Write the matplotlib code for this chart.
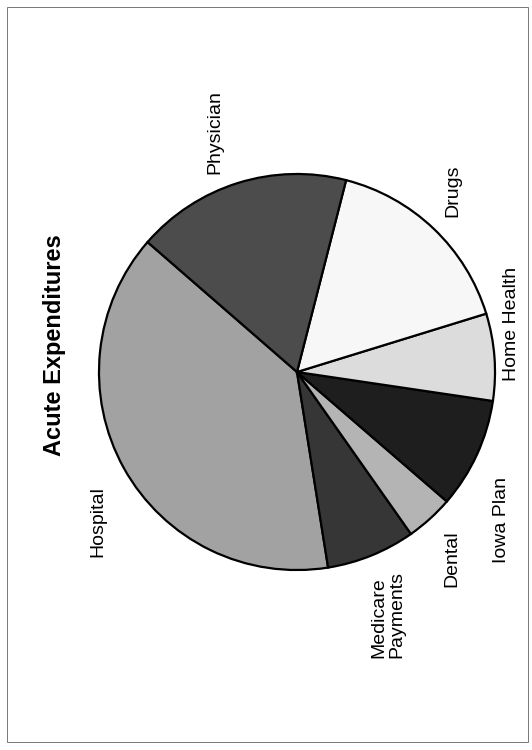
import matplotlib
matplotlib.use('Agg')
import matplotlib.pyplot as plt
from matplotlib.patches import Rectangle

# slice shares (percent), in counter-clockwise order starting from Hospital
categories = ['Hospital', 'Medicare\nPayments', 'Dental', 'Iowa Plan',
              'Home Health', 'Drugs', 'Physician']
shares = [38.9, 7.25, 3.9, 9.0, 7.1, 16.25, 17.6]
title = 'Acute Expenditures'

colors = ['#a2a2a2', '#363636', '#b4b4b4', '#1e1e1e',
          '#dcdcdc', '#f7f7f7', '#4c4c4c']

# label centres in pixels (x, y from top), text is rotated 90 degrees
label_pos = {
    'Hospital': (98, 522),
    'Medicare\nPayments': (388, 615),
    'Dental': (452, 559),
    'Iowa Plan': (501, 520),
    'Home Health': (512, 324),
    'Drugs': (453, 191),
    'Physician': (215, 132),
}

W, H = 532, 750
plt.rcParams['font.family'] = ['Liberation Sans', 'DejaVu Sans']
fig = plt.figure(figsize=(W / 100, H / 100), dpi=100)

# pie centre at (297, 372) px, radius 200 px
cx, cy, r = 297, 372, 200
ax = fig.add_axes([(cx - r) / W, (H - cy - r) / H, 2 * r / W, 2 * r / H])
wedges, _ = ax.pie(shares, colors=colors, startangle=139, counterclock=True,
                   wedgeprops=dict(edgecolor='black', linewidth=1.6))
ax.set_xlim(-1.01, 1.01)
ax.set_ylim(-1.01, 1.01)
ax.set_aspect('equal')
ax.axis('off')

for name in categories:
    px, py = label_pos[name]
    fig.text(px / W, 1 - py / H, name, rotation=90, ha='center', va='center',
             fontsize=14, multialignment='left', linespacing=1.05)

fig.text(54 / W, 1 - 345 / H, title, rotation=90, ha='center', va='center',
         fontsize=17, fontweight='bold')

# scanned page border
fig.patches.append(Rectangle((7 / W, 1 - 742 / H), 521 / W, 735 / H,
                             transform=fig.transFigure, fill=False,
                             edgecolor='#777777', linewidth=0.7))

fig.savefig('out.png', dpi=100, facecolor='white')
